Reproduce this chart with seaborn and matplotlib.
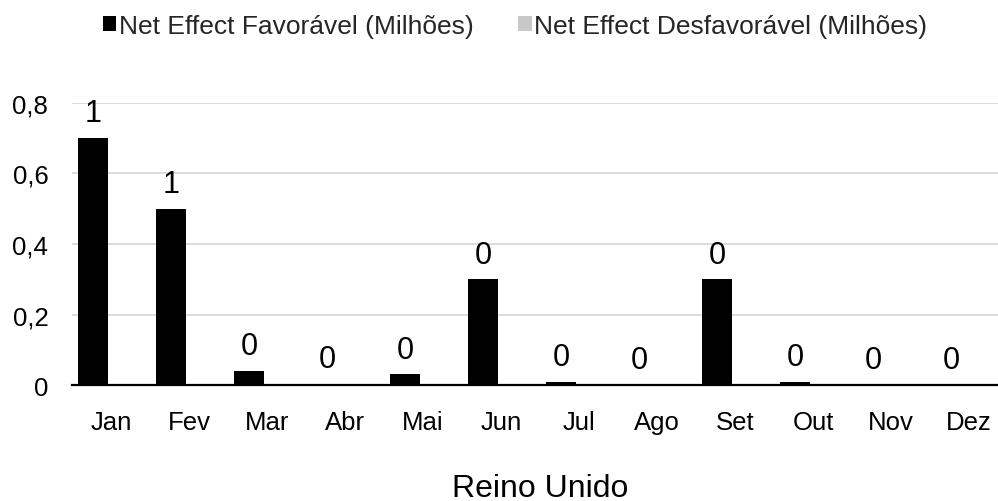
import math
import matplotlib
matplotlib.use("Agg")
import matplotlib.pyplot as plt
import seaborn as sns
import pandas as pd

months = ["Jan", "Fev", "Mar", "Abr", "Mai", "Jun", "Jul", "Ago", "Set", "Out", "Nov", "Dez"]
favoravel = [0.70, 0.50, 0.04, 0.003, 0.03, 0.30, 0.008, 0.0, 0.30, 0.008, 0.0, 0.0]
desfavoravel = [0.0, 0.0, 0.0, 0.0, 0.0, 0.0, 0.0, 0.0, 0.0, 0.0, 0.0, 0.0]
series_names = ["Net Effect Favorável (Milhões)", "Net Effect Desfavorável (Milhões)"]
y_ticks = [0.0, 0.2, 0.4, 0.6, 0.8]
x_title = "Reino Unido"

sns.set_theme(style="white")
plt.rcParams["font.family"] = ["Liberation Sans", "DejaVu Sans"]

df = pd.DataFrame({
    "mes": months * 2,
    "valor": favoravel + desfavoravel,
    "serie": [series_names[0]] * len(months) + [series_names[1]] * len(months),
})

fig = plt.figure(figsize=(9.98, 5.02), dpi=100)
ax = fig.add_axes([0.0721, 0.231, 0.938, 0.562])

sns.barplot(data=df, x="mes", y="valor", hue="serie", order=months,
            hue_order=series_names, palette=["#000000", "#c8c8c8"],
            width=0.923, gap=0.166, saturation=1, ax=ax, legend=True,
            linewidth=0)

ax.set_ylim(0, 0.8)
ax.set_xlim(-0.5, len(months) - 0.5)
ax.set_yticks(y_ticks)
ax.set_yticklabels(["0" if v == 0 else f"{v:.1f}".replace(".", ",") for v in y_ticks])
ax.yaxis.grid(True, color="#d9d9d9", linewidth=1.3)
ax.set_axisbelow(True)
for s in ["top", "right", "left"]:
    ax.spines[s].set_visible(False)
ax.spines["bottom"].set_color("#000000")
ax.spines["bottom"].set_linewidth(1.6)
ax.spines["bottom"].set_zorder(5)
ax.tick_params(axis="x", length=0, pad=18, labelsize=18.5, colors="#000000")
ax.tick_params(axis="y", length=0, pad=17, labelsize=18.5, colors="#000000")
ax.set_ylabel("")
ax.set_xlabel(x_title, fontsize=23, labelpad=28, color="#000000")

labels = [str(math.floor(v + 0.5)) for v in favoravel]
ax.bar_label(ax.containers[0], labels=labels, padding=7, fontsize=22, color="#000000")

handles, _ = ax.get_legend_handles_labels()
ax.legend(handles, series_names, loc="center", bbox_to_anchor=(515 / 998, 1 - 27 / 502),
          bbox_transform=fig.transFigure, ncol=2, frameon=False, fontsize=19,
          handlelength=0.5, handleheight=0.5, handletextpad=0.1, columnspacing=1.7,
          borderaxespad=0, borderpad=0)

fig.savefig("out.png", dpi=100)
